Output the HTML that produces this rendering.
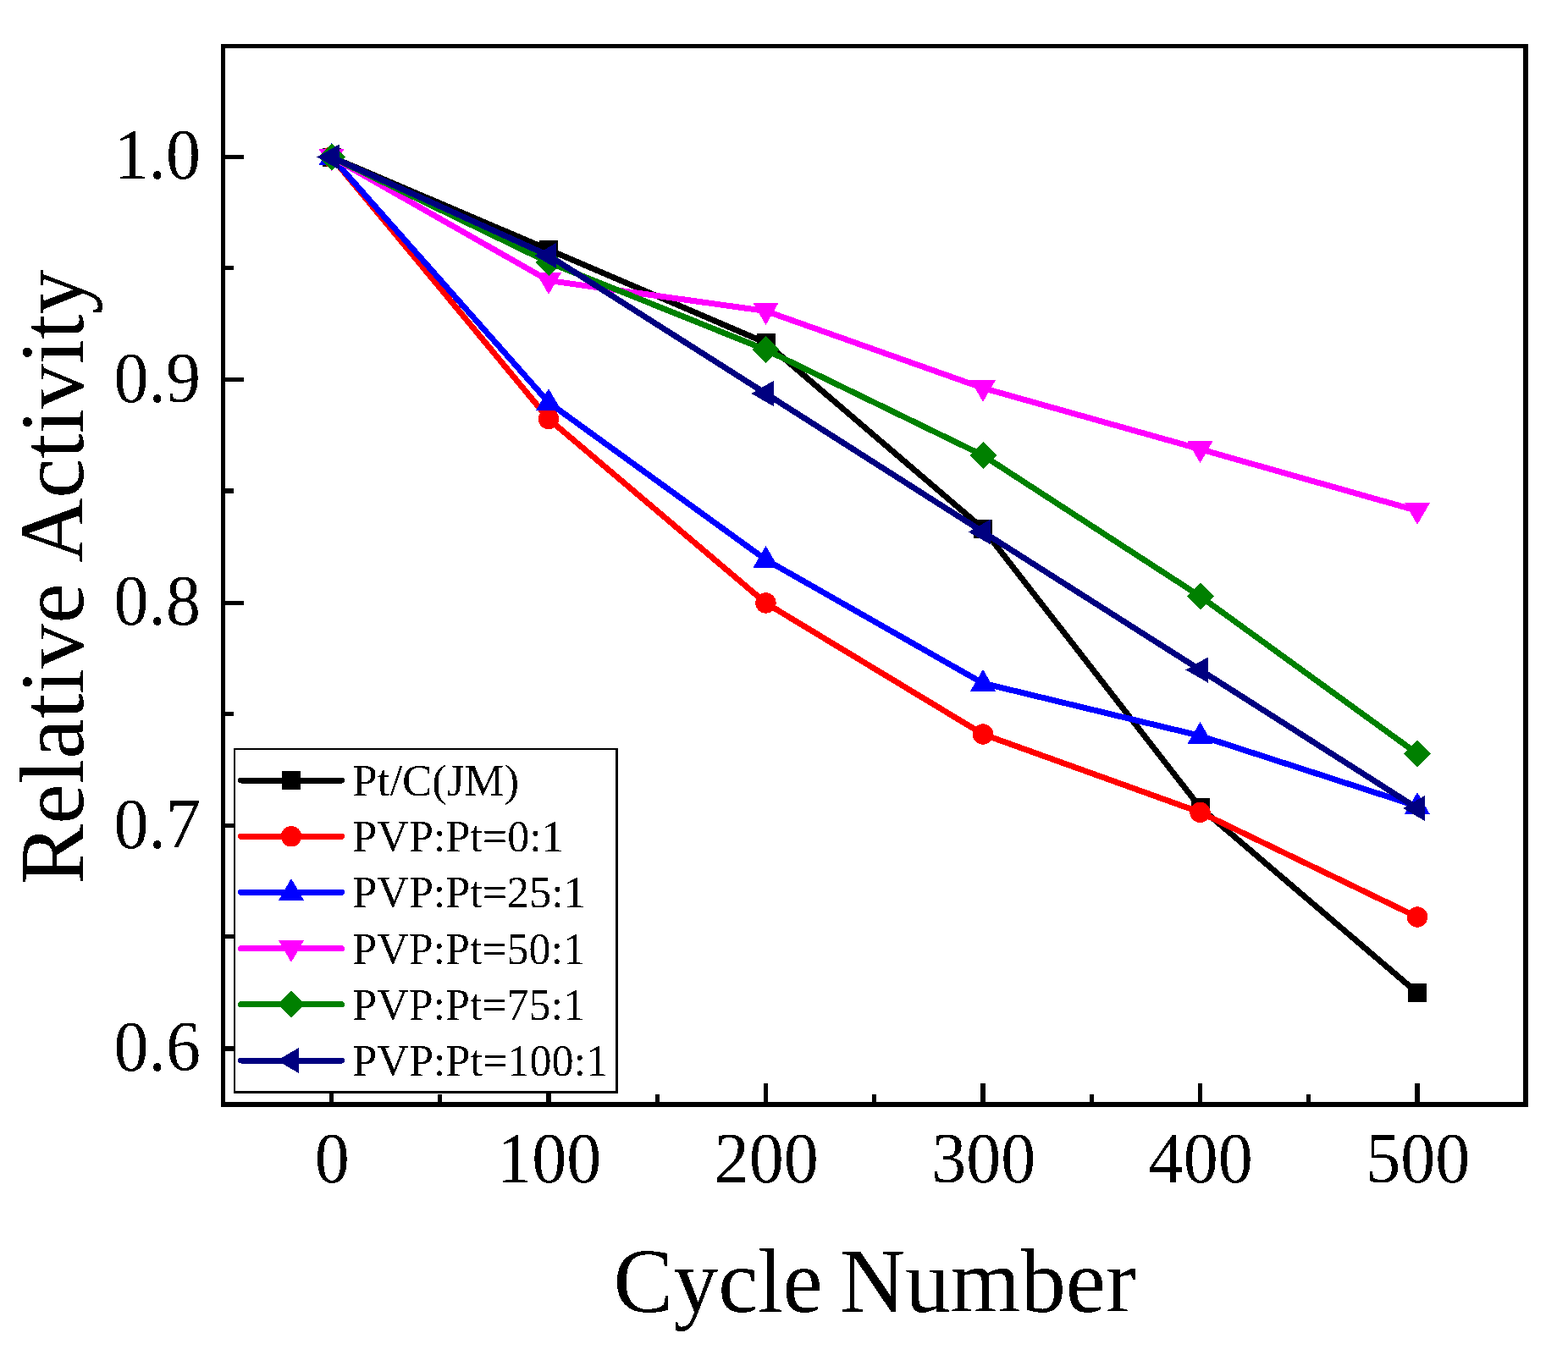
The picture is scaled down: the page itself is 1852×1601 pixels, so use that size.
<!DOCTYPE html><html><head><meta charset="utf-8"><style>html,body{margin:0;padding:0;background:#fff;overflow:hidden;}svg{display:block;}text{filter:url(#bin);font-family:"Liberation Serif","Times New Roman",serif;fill:#000;}</style></head><body>
<svg width="1852" height="1601" viewBox="0 0 1852 1601">
<defs><filter id="bin" x="-5%" y="-20%" width="110%" height="140%"><feComponentTransfer><feFuncA type="discrete" tableValues="0 1"/></feComponentTransfer></filter></defs>
<rect width="1852" height="1601" fill="#fff"/>
<g fill="#000" shape-rendering="crispEdges">
<rect x="266" y="182.90" width="22" height="5.2"/>
<rect x="266" y="446.27" width="22" height="5.2"/>
<rect x="266" y="709.65" width="22" height="5.2"/>
<rect x="266" y="973.03" width="22" height="5.2"/>
<rect x="266" y="1236.40" width="22" height="5.2"/>
<rect x="266" y="314.09" width="10" height="5.2"/>
<rect x="266" y="577.46" width="10" height="5.2"/>
<rect x="266" y="840.84" width="10" height="5.2"/>
<rect x="266" y="1104.21" width="10" height="5.2"/>
<rect x="388.90" y="1280" width="5.2" height="22"/>
<rect x="645.40" y="1280" width="5.2" height="22"/>
<rect x="901.90" y="1280" width="5.2" height="22"/>
<rect x="1158.40" y="1280" width="5.2" height="22"/>
<rect x="1414.90" y="1280" width="5.2" height="22"/>
<rect x="1671.40" y="1280" width="5.2" height="22"/>
<rect x="517.15" y="1293" width="5.2" height="9"/>
<rect x="773.65" y="1293" width="5.2" height="9"/>
<rect x="1030.15" y="1293" width="5.2" height="9"/>
<rect x="1286.65" y="1293" width="5.2" height="9"/>
<rect x="1543.15" y="1293" width="5.2" height="9"/>
</g>
<polyline points="391.50,185.50 648.00,295.00 904.50,405.00 1161.00,624.50 1417.50,954.00 1674.00,1173.00" fill="none" stroke="#000000" stroke-width="7" stroke-linejoin="round" stroke-linecap="round" shape-rendering="crispEdges"/>
<g shape-rendering="crispEdges"><rect x="380.50" y="174.50" width="22" height="22" fill="#000000"/><rect x="637.00" y="284.00" width="22" height="22" fill="#000000"/><rect x="893.50" y="394.00" width="22" height="22" fill="#000000"/><rect x="1150.00" y="613.50" width="22" height="22" fill="#000000"/><rect x="1406.50" y="943.00" width="22" height="22" fill="#000000"/><rect x="1663.00" y="1162.00" width="22" height="22" fill="#000000"/></g>
<polyline points="391.50,185.50 648.00,495.00 904.50,712.50 1161.00,867.50 1417.50,959.80 1674.00,1083.50" fill="none" stroke="#FF0000" stroke-width="7" stroke-linejoin="round" stroke-linecap="round" shape-rendering="crispEdges"/>
<g shape-rendering="crispEdges"><circle cx="391.50" cy="185.50" r="12.2" fill="#FF0000"/><circle cx="648.00" cy="495.00" r="12.2" fill="#FF0000"/><circle cx="904.50" cy="712.50" r="12.2" fill="#FF0000"/><circle cx="1161.00" cy="867.50" r="12.2" fill="#FF0000"/><circle cx="1417.50" cy="959.80" r="12.2" fill="#FF0000"/><circle cx="1674.00" cy="1083.50" r="12.2" fill="#FF0000"/></g>
<polyline points="391.50,185.50 648.00,475.50 904.50,661.30 1161.00,807.30 1417.50,869.40 1674.00,952.60" fill="none" stroke="#0000FF" stroke-width="7" stroke-linejoin="round" stroke-linecap="round" shape-rendering="crispEdges"/>
<g shape-rendering="crispEdges"><polygon points="391.50,169.00 406.50,195.00 376.50,195.00" fill="#0000FF"/><polygon points="648.00,459.00 663.00,485.00 633.00,485.00" fill="#0000FF"/><polygon points="904.50,644.80 919.50,670.80 889.50,670.80" fill="#0000FF"/><polygon points="1161.00,790.80 1176.00,816.80 1146.00,816.80" fill="#0000FF"/><polygon points="1417.50,852.90 1432.50,878.90 1402.50,878.90" fill="#0000FF"/><polygon points="1674.00,936.10 1689.00,962.10 1659.00,962.10" fill="#0000FF"/></g>
<polyline points="391.50,185.50 648.00,331.50 904.50,367.50 1161.00,458.50 1417.50,530.70 1674.00,603.50" fill="none" stroke="#FF00FF" stroke-width="7" stroke-linejoin="round" stroke-linecap="round" shape-rendering="crispEdges"/>
<g shape-rendering="crispEdges"><polygon points="391.50,202.00 406.50,176.00 376.50,176.00" fill="#FF00FF"/><polygon points="648.00,348.00 663.00,322.00 633.00,322.00" fill="#FF00FF"/><polygon points="904.50,384.00 919.50,358.00 889.50,358.00" fill="#FF00FF"/><polygon points="1161.00,475.00 1176.00,449.00 1146.00,449.00" fill="#FF00FF"/><polygon points="1417.50,547.20 1432.50,521.20 1402.50,521.20" fill="#FF00FF"/><polygon points="1674.00,620.00 1689.00,594.00 1659.00,594.00" fill="#FF00FF"/></g>
<polyline points="391.50,185.50 648.00,310.00 904.50,413.30 1161.00,538.00 1417.50,704.50 1674.00,890.50" fill="none" stroke="#008000" stroke-width="7" stroke-linejoin="round" stroke-linecap="round" shape-rendering="crispEdges"/>
<g shape-rendering="crispEdges"><polygon points="391.50,169.50 407.50,185.50 391.50,201.50 375.50,185.50" fill="#008000"/><polygon points="648.00,294.00 664.00,310.00 648.00,326.00 632.00,310.00" fill="#008000"/><polygon points="904.50,397.30 920.50,413.30 904.50,429.30 888.50,413.30" fill="#008000"/><polygon points="1161.00,522.00 1177.00,538.00 1161.00,554.00 1145.00,538.00" fill="#008000"/><polygon points="1417.50,688.50 1433.50,704.50 1417.50,720.50 1401.50,704.50" fill="#008000"/><polygon points="1674.00,874.50 1690.00,890.50 1674.00,906.50 1658.00,890.50" fill="#008000"/></g>
<polyline points="391.50,185.50 648.00,302.00 904.50,465.00 1161.00,628.50 1417.50,791.50 1674.00,955.00" fill="none" stroke="#000080" stroke-width="7" stroke-linejoin="round" stroke-linecap="round" shape-rendering="crispEdges"/>
<g shape-rendering="crispEdges"><polygon points="374.50,185.50 400.50,170.50 400.50,200.50" fill="#000080"/><polygon points="631.00,302.00 657.00,287.00 657.00,317.00" fill="#000080"/><polygon points="887.50,465.00 913.50,450.00 913.50,480.00" fill="#000080"/><polygon points="1144.00,628.50 1170.00,613.50 1170.00,643.50" fill="#000080"/><polygon points="1400.50,791.50 1426.50,776.50 1426.50,806.50" fill="#000080"/><polygon points="1657.00,955.00 1683.00,940.00 1683.00,970.00" fill="#000080"/></g>
<g shape-rendering="crispEdges"><rect x="276" y="884" width="454" height="408" fill="#fff"/><rect x="276" y="884" width="454" height="2" fill="#000"/><rect x="276" y="884" width="2" height="408" fill="#000"/><rect x="727" y="884" width="3" height="408" fill="#000"/><rect x="276" y="1289" width="454" height="3" fill="#000"/></g>
<line x1="284.5" y1="922.00" x2="403.5" y2="922.00" stroke="#000000" stroke-width="7" stroke-linecap="round" shape-rendering="crispEdges"/>
<g shape-rendering="crispEdges"><rect x="333.00" y="911.00" width="22" height="22" fill="#000000"/></g>
<text x="416.37" y="940.00" font-size="53" textLength="196.66" lengthAdjust="spacingAndGlyphs">Pt/C(JM)</text>
<line x1="284.5" y1="988.20" x2="403.5" y2="988.20" stroke="#FF0000" stroke-width="7" stroke-linecap="round" shape-rendering="crispEdges"/>
<g shape-rendering="crispEdges"><circle cx="344.00" cy="988.20" r="12.2" fill="#FF0000"/></g>
<text x="416.37" y="1006.20" font-size="53" textLength="249.41" lengthAdjust="spacingAndGlyphs">PVP:Pt=0:1</text>
<line x1="284.5" y1="1054.40" x2="403.5" y2="1054.40" stroke="#0000FF" stroke-width="7" stroke-linecap="round" shape-rendering="crispEdges"/>
<g shape-rendering="crispEdges"><polygon points="344.00,1037.90 359.00,1063.90 329.00,1063.90" fill="#0000FF"/></g>
<text x="416.37" y="1072.40" font-size="53" textLength="275.31" lengthAdjust="spacingAndGlyphs">PVP:Pt=25:1</text>
<line x1="284.5" y1="1120.60" x2="403.5" y2="1120.60" stroke="#FF00FF" stroke-width="7" stroke-linecap="round" shape-rendering="crispEdges"/>
<g shape-rendering="crispEdges"><polygon points="344.00,1137.10 359.00,1111.10 329.00,1111.10" fill="#FF00FF"/></g>
<text x="416.37" y="1138.60" font-size="53" textLength="274.51" lengthAdjust="spacingAndGlyphs">PVP:Pt=50:1</text>
<line x1="284.5" y1="1186.80" x2="403.5" y2="1186.80" stroke="#008000" stroke-width="7" stroke-linecap="round" shape-rendering="crispEdges"/>
<g shape-rendering="crispEdges"><polygon points="344.00,1170.80 360.00,1186.80 344.00,1202.80 328.00,1186.80" fill="#008000"/></g>
<text x="416.37" y="1204.80" font-size="53" textLength="274.51" lengthAdjust="spacingAndGlyphs">PVP:Pt=75:1</text>
<line x1="284.5" y1="1253.00" x2="403.5" y2="1253.00" stroke="#000080" stroke-width="7" stroke-linecap="round" shape-rendering="crispEdges"/>
<g shape-rendering="crispEdges"><polygon points="327.00,1253.00 353.00,1238.00 353.00,1268.00" fill="#000080"/></g>
<text x="416.37" y="1271.00" font-size="53" textLength="301.81" lengthAdjust="spacingAndGlyphs">PVP:Pt=100:1</text>
<g fill="#000" shape-rendering="crispEdges"><rect x="261" y="52" width="1544" height="5"/><rect x="261" y="52" width="5" height="1256"/><rect x="1799" y="52" width="6" height="1256"/><rect x="261" y="1302" width="1544" height="6"/></g>
<text transform="translate(237,211.10) scale(1,1.03)" font-size="82" text-anchor="end">1.0</text>
<text transform="translate(237,474.60) scale(1,1.03)" font-size="82" text-anchor="end">0.9</text>
<text transform="translate(237,738.10) scale(1,1.03)" font-size="82" text-anchor="end">0.8</text>
<text transform="translate(237,1001.60) scale(1,1.03)" font-size="82" text-anchor="end">0.7</text>
<text transform="translate(237,1265.10) scale(1,1.03)" font-size="82" text-anchor="end">0.6</text>
<text transform="translate(392.20,1396.6) scale(1,1.03)" font-size="82" text-anchor="middle">0</text>
<text transform="translate(648.70,1396.6) scale(1,1.03)" font-size="82" text-anchor="middle">100</text>
<text transform="translate(905.20,1396.6) scale(1,1.03)" font-size="82" text-anchor="middle">200</text>
<text transform="translate(1161.70,1396.6) scale(1,1.03)" font-size="82" text-anchor="middle">300</text>
<text transform="translate(1418.20,1396.6) scale(1,1.03)" font-size="82" text-anchor="middle">400</text>
<text transform="translate(1674.70,1396.6) scale(1,1.03)" font-size="82" text-anchor="middle">500</text>
<text x="724.47" y="1550" font-size="108" textLength="247.17" lengthAdjust="spacingAndGlyphs">Cycle</text>
<text x="991.89" y="1550" font-size="108" textLength="349.86" lengthAdjust="spacingAndGlyphs">Number</text>
<text transform="translate(98,0) rotate(-90)" x="-1045.11" y="0" font-size="108" textLength="355.86" lengthAdjust="spacingAndGlyphs">Relative</text>
<text transform="translate(98,0) rotate(-90)" x="-665.05" y="0" font-size="108" textLength="346.48" lengthAdjust="spacingAndGlyphs">Activity</text>
</svg></body></html>
